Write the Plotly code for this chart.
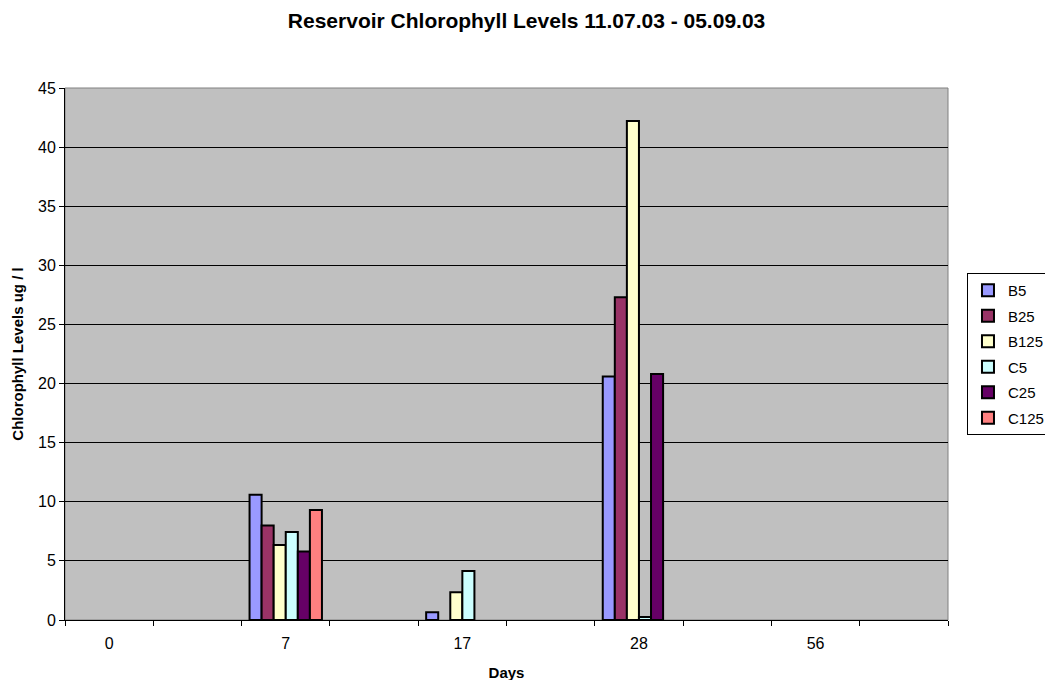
import plotly.graph_objects as go

# Category slots (10 slots, labels shown on every other one)
slot_labels = ["0", "", "7", "", "17", "", "28", "", "56", ""]
series_names = ["B5", "B25", "B125", "C5", "C25", "C125"]
B5 = [None, None, 10.6, None, 0.65, None, 20.6, None, None, None]
B25 = [None, None, 8.0, None, None, None, 27.3, None, None, None]
B125 = [None, None, 6.35, None, 2.35, None, 42.2, None, None, None]
C5 = [None, None, 7.45, None, 4.15, None, 0.25, None, None, None]
C25 = [None, None, 5.8, None, None, None, 20.8, None, None, None]
C125 = [None, None, 9.3, None, None, None, None, None, None, None]
colors = ["#9999FF", "#993366", "#FFFFCC", "#CCFFFF", "#660066", "#FF8080"]
values = [B5, B25, B125, C5, C25, C125]

font = "Liberation Sans, Arial, sans-serif"
xs = list(range(len(slot_labels)))

fig = go.Figure()
for name, vals, col in zip(series_names, values, colors):
    fig.add_trace(go.Bar(
        x=xs, y=vals, name=name, legendgroup=name,
        marker=dict(color=col, line=dict(color="black", width=2)),
    ))

label_pos = [i for i, t in enumerate(slot_labels) if t]
label_txt = [t for t in slot_labels if t]

W, H = 1053, 680
fig.update_layout(
    width=W, height=H,
    paper_bgcolor="white", plot_bgcolor="#C0C0C0",
    margin=dict(l=57, r=113, t=80, b=68, autoexpand=False),
    barmode="group", bargap=0.18, bargroupgap=0,
    font=dict(family=font, size=16, color="black"),
    title=dict(text="<b>Reservoir Chlorophyll Levels 11.07.03 - 05.09.03</b>",
               x=0.5227, xref="paper", xanchor="center", y=1 - 12.2 / H, yanchor="middle",
               font=dict(size=21, family=font), automargin=False),
    legend=dict(x=1.0215, xanchor="left", y=0.50, yanchor="middle",
                bordercolor="black", borderwidth=1, bgcolor="white",
                tracegroupgap=3, font=dict(size=15, family=font)),
    xaxis=dict(range=[-0.5, len(slot_labels) - 0.5], tickmode="array",
               tickvals=label_pos, ticktext=label_txt, ticks="", showgrid=False,
               showline=True, linecolor="black", linewidth=1, zeroline=False,
               tickfont=dict(size=16), ticklabelstandoff=9, automargin=False,
               minor=dict(tickmode="array",
                          tickvals=[k - 0.5 for k in range(len(slot_labels) + 1)],
                          ticks="outside", ticklen=5, tickcolor="black", showgrid=False),
               title=dict(text="<b>Days</b>", font=dict(size=15), standoff=16)),
    yaxis=dict(range=[0, 45], dtick=5, tick0=0, ticks="outside", ticklen=5,
               tickcolor="black", showgrid=True, gridcolor="black", gridwidth=1,
               showline=True, linecolor="black", linewidth=1, zeroline=False,
               tickfont=dict(size=16), automargin=False,
               title=dict(text="<b>Chlorophyll Levels ug / l</b>", font=dict(size=15), standoff=10)),
)
# plot area border (gray)
fig.add_shape(type="rect", xref="paper", yref="paper", x0=0, y0=0, x1=1, y1=1,
              line=dict(color="#808080", width=1), fillcolor="rgba(0,0,0,0)", layer="below")

fig.write_html("out.html")
